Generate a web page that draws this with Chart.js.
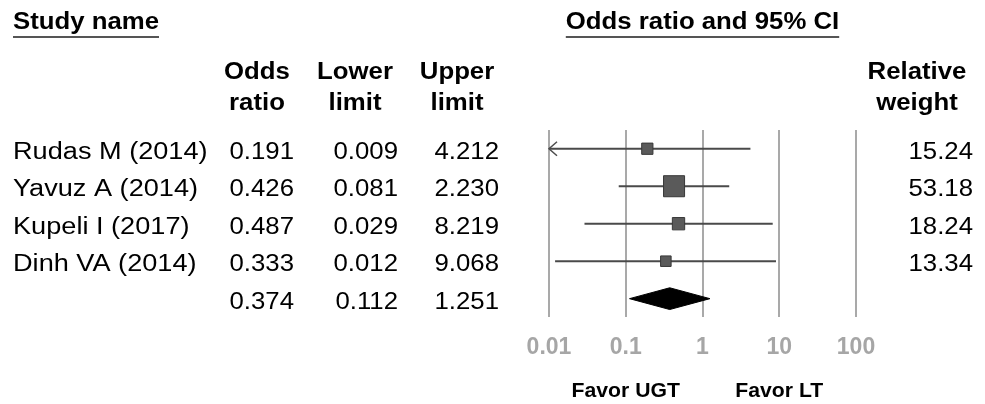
<!DOCTYPE html>
<html>
<head>
<meta charset="utf-8">
<script src="https://cdn.jsdelivr.net/npm/chart.js@4/dist/chart.umd.min.js"></script>
<style>
  html, body { margin: 0; padding: 0; background: #fff; }
  #wrap { width: 985px; height: 404px; position: relative; }
</style>
</head>
<body>
<div id="wrap"><canvas id="forestChart"></canvas></div>
<script>
const studies = ['Rudas M (2014)', 'Yavuz A (2014)', 'Kupeli I (2017)', 'Dinh VA (2014)'];
const oddsRatio = [0.191, 0.426, 0.487, 0.333];
const lowerLimit = [0.009, 0.081, 0.029, 0.012];
const upperLimit = [4.212, 2.230, 8.219, 9.068];
const relWeight = [15.24, 53.18, 18.24, 13.34];
const summaryOR = 0.374;
const summaryLower = 0.112;
const summaryUpper = 1.251;
const xTicks = [0.01, 0.1, 1, 10, 100];
const xTickLabels = ['0.01', '0.1', '1', '10', '100'];

const X_MIN = 0.01;
const X_MAX = 100;
const SUMMARY_ROW = studies.length;
const FONT = '"Liberation Sans", Arial, sans-serif';
const SX = 1.12; // text in the source is a bit wide

function drawText(ctx, text, x, y, align, font, color, sx) {
  ctx.save();
  ctx.font = font;
  ctx.fillStyle = color || '#000';
  ctx.textBaseline = 'alphabetic';
  ctx.textAlign = align;
  ctx.translate(x, y);
  ctx.scale(sx || SX, 1);
  ctx.fillText(text, 0, 0);
  const w = ctx.measureText(text).width * (sx || SX);
  ctx.restore();
  return w;
}

function underline(ctx, x1, x2, y) {
  ctx.save();
  ctx.strokeStyle = '#555';
  ctx.lineWidth = 2;
  ctx.beginPath();
  ctx.moveTo(x1, y);
  ctx.lineTo(x2, y);
  ctx.stroke();
  ctx.restore();
}

const tablePlugin = {
  id: 'forestTable',
  afterDatasetsDraw(chart) {
    // arrow heads for CIs running off the axis
    const { ctx } = chart;
    const xs = chart.scales.x;
    const ys = chart.scales.y;
    ctx.save();
    ctx.strokeStyle = '#4d4d4d';
    ctx.lineWidth = 1.5;
    studies.forEach((s, i) => {
      const y = ys.getPixelForValue(i);
      if (lowerLimit[i] < X_MIN) {
        const x0 = xs.getPixelForValue(X_MIN);
        ctx.beginPath();
        ctx.moveTo(x0 + 8, y - 7);
        ctx.lineTo(x0, y);
        ctx.lineTo(x0 + 8, y + 7);
        ctx.stroke();
      }
      if (upperLimit[i] > X_MAX) {
        const x1 = xs.getPixelForValue(X_MAX);
        ctx.beginPath();
        ctx.moveTo(x1 - 8, y - 7);
        ctx.lineTo(x1, y);
        ctx.lineTo(x1 - 8, y + 7);
        ctx.stroke();
      }
    });
    ctx.restore();
  },
  afterDraw(chart) {
    const { ctx } = chart;
    const xs = chart.scales.x;
    const ys = chart.scales.y;
    const bold = 'bold 23px ' + FONT;
    const normal = '23px ' + FONT;

    // top headers
    let w = drawText(ctx, 'Study name', 13, 29, 'left', bold);
    underline(ctx, 13, 13 + w, 37);
    const cx = xs.getPixelForValue(1);
    w = drawText(ctx, 'Odds ratio and 95% CI', cx, 29, 'center', bold);
    underline(ctx, cx - w / 2, cx + w / 2, 37);

    // column headers
    const heads = [['Odds', 'ratio', 257], ['Lower', 'limit', 355], ['Upper', 'limit', 457], ['Relative', 'weight', 917]];
    heads.forEach(h => {
      drawText(ctx, h[0], h[2], 79, 'center', bold);
      drawText(ctx, h[1], h[2], 110, 'center', bold);
    });

    // study rows
    studies.forEach((s, i) => {
      const y = ys.getPixelForValue(i) + 10;
      drawText(ctx, s, 13, y, 'left', normal, '#000', 1.18);
      drawText(ctx, oddsRatio[i].toFixed(3), 294, y, 'right', normal);
      drawText(ctx, lowerLimit[i].toFixed(3), 398, y, 'right', normal);
      drawText(ctx, upperLimit[i].toFixed(3), 499, y, 'right', normal);
      drawText(ctx, relWeight[i].toFixed(2), 973, y, 'right', normal);
    });
    const ySum = ys.getPixelForValue(SUMMARY_ROW) + 10;
    drawText(ctx, summaryOR.toFixed(3), 294, ySum, 'right', normal);
    drawText(ctx, summaryLower.toFixed(3), 398, ySum, 'right', normal);
    drawText(ctx, summaryUpper.toFixed(3), 499, ySum, 'right', normal);

    // favour labels
    const fav = 'bold 20px ' + FONT;
    drawText(ctx, 'Favor UGT', xs.getPixelForValue(0.1), 397, 'center', fav, '#000', 1.06);
    drawText(ctx, 'Favor LT', xs.getPixelForValue(10), 397, 'center', fav, '#000', 1.06);
  }
};

const ciLines = studies.map((s, i) => ({
  type: 'line',
  label: s,
  data: [
    { x: Math.max(lowerLimit[i], X_MIN), y: i },
    { x: Math.min(upperLimit[i], X_MAX), y: i },
  ],
  borderColor: '#4a4a4a',
  borderWidth: 2,
  pointRadius: 0,
  showLine: true,
  fill: false,
  order: 2,
}));

const squares = {
  label: 'Odds ratio',
  data: oddsRatio.map((v, i) => ({ x: v, y: i })),
  pointStyle: 'rect',
  pointRadius: relWeight.map(w => 2.04 * Math.sqrt(w)),
  backgroundColor: '#5a5a5a',
  borderColor: '#383838',
  borderWidth: 1,
  order: 0,
};

const diamond = {
  type: 'line',
  label: 'Summary',
  data: [
    { x: summaryLower, y: SUMMARY_ROW },
    { x: summaryOR, y: SUMMARY_ROW - 0.29 },
    { x: summaryUpper, y: SUMMARY_ROW },
    { x: summaryOR, y: SUMMARY_ROW + 0.29 },
    { x: summaryLower, y: SUMMARY_ROW },
  ],
  borderColor: '#000',
  backgroundColor: '#000',
  borderWidth: 1,
  pointRadius: 0,
  tension: 0,
  showLine: true,
  fill: 'shape',
  order: 1,
};

const chartConfig = {
  type: 'scatter',
  data: { datasets: [squares, diamond, ...ciLines] },
  options: {
    responsive: true,
    maintainAspectRatio: false,
    animation: false,
    layout: { padding: { left: 549, right: 129, top: 130, bottom: 27 } },
    plugins: {
      legend: { display: false },
      tooltip: { enabled: false },
    },
    scales: {
      x: {
        type: 'logarithmic',
        min: X_MIN,
        max: X_MAX,
        position: 'bottom',
        afterBuildTicks: (scale) => {
          scale.ticks = xTicks.map(v => ({ value: v }));
        },
        ticks: {
          callback: (value, index) => xTickLabels[index],
          autoSkip: false,
          maxRotation: 0,
          padding: 16,
          color: '#a6a6a6',
          font: { family: FONT, size: 23, weight: 'bold' },
        },
        grid: { color: '#a9a9a9', lineWidth: 2, drawTicks: false },
        border: { display: false },
      },
      y: {
        type: 'linear',
        min: -0.5,
        max: SUMMARY_ROW + 0.5,
        reverse: true,
        display: false,
      },
    },
  },
  plugins: [tablePlugin],
};

const ctx = document.getElementById('forestChart');
new Chart(ctx, chartConfig);
</script>
</body>
</html>
